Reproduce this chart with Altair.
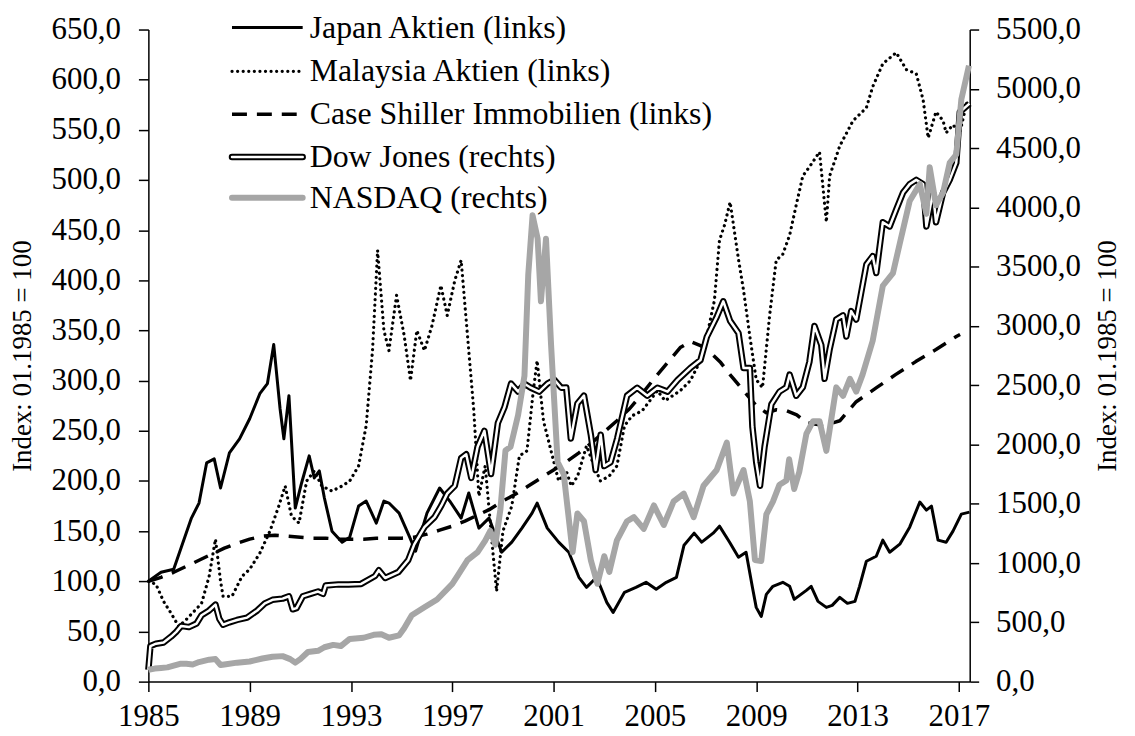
import altair as alt
import pandas as pd

# ---------------- data ----------------
japan = [(1985.0,100),(1985.5,109),(1986.0,112),(1986.3,134),(1986.7,163),(1987.0,178),(1987.3,218),
         (1987.6,222),(1987.85,193),(1988.2,228),(1988.6,242),(1989.0,262),(1989.4,287),(1989.7,297),
         (1989.95,336),(1990.2,272),(1990.35,242),(1990.55,285),(1990.8,173),(1991.05,198),(1991.35,225),
         (1991.55,203),(1991.75,210),(1991.95,183),(1992.25,150),(1992.65,139),(1992.95,144),(1993.3,175),
         (1993.6,180),(1994.0,158),(1994.3,180),(1994.5,178),(1994.9,168),(1995.3,145),(1995.55,130),
         (1996.0,168),(1996.5,193),(1996.9,180),(1997.35,163),(1997.65,188),(1998.05,153),(1998.45,163),
         (1998.95,129),(1999.35,139),(1999.75,153),(2000.15,168),(2000.35,178),(2000.75,153),(2001.2,139),
         (2001.6,129),(2002.0,104),(2002.3,94),(2002.7,104),(2003.1,79),(2003.35,69),(2003.8,89),
         (2004.25,94),(2004.65,99),(2005.05,92),(2005.45,99),(2005.85,104),(2006.15,136),(2006.55,148),
         (2006.85,139),(2007.3,148),(2007.55,155),(2007.95,139),(2008.3,124),(2008.6,129),(2008.85,94),
         (2009.0,74),(2009.2,65),(2009.4,87),(2009.66,95),(2010.05,99),(2010.32,95),(2010.5,82),
         (2010.98,91),(2011.17,95),(2011.44,80),(2011.77,74),(2012.0,76),(2012.3,84),(2012.6,78),
         (2012.9,80),(2013.08,95),(2013.35,120),(2013.74,125),(2014.0,141),(2014.27,129),(2014.67,137),
         (2015.06,154),(2015.46,179),(2015.72,171),(2015.92,175),(2016.18,141),(2016.5,139),(2016.77,150),
         (2017.1,167),(2017.42,169)]

malaysia = [(1985.0,100),(1985.3,97),(1985.6,80),(1985.9,68),(1986.2,55),(1986.5,62),(1986.8,70),
            (1987.1,78),(1987.4,105),(1987.65,142),(1987.85,100),(1987.95,85),(1988.3,85),(1988.7,105),
            (1989.0,112),(1989.4,128),(1989.8,150),(1990.15,175),(1990.4,195),(1990.65,165),(1990.95,158),
            (1991.25,200),(1991.55,210),(1991.85,195),(1992.25,190),(1992.65,195),(1992.95,200),(1993.3,215),
            (1993.6,255),(1993.85,330),(1994.05,430),(1994.3,350),(1994.5,330),(1994.8,385),(1995.1,345),
            (1995.35,300),(1995.6,350),(1995.9,330),(1996.2,355),(1996.55,395),(1996.8,365),(1997.1,400),
            (1997.35,420),(1997.6,345),(1997.85,270),(1998.05,185),(1998.3,215),(1998.6,130),(1998.75,90),
            (1999.0,150),(1999.35,175),(1999.65,225),(1999.95,230),(2000.2,290),(2000.35,320),(2000.6,260),
            (2000.9,230),(2001.2,200),(2001.5,210),(2001.7,195),(2001.95,205),(2002.3,235),(2002.6,215),
            (2002.85,200),(2003.2,205),(2003.5,215),(2003.8,255),(2004.1,265),(2004.5,270),(2004.8,280),
            (2005.1,290),(2005.4,280),(2005.7,285),(2006.0,290),(2006.4,300),(2006.8,320),(2007.1,350),
            (2007.35,380),(2007.55,440),(2007.75,455),(2007.97,478),(2008.3,421),(2008.5,390),(2008.75,344),
            (2009.0,301),(2009.25,293),(2009.53,365),(2009.79,420),(2010.05,426),(2010.32,445),(2010.58,475),
            (2010.84,504),(2011.1,513),(2011.5,528),(2011.77,458),(2011.9,504),(2012.3,534),(2012.82,559),
            (2013.35,572),(2013.6,593),(2014.0,616),(2014.53,627),(2014.93,610),(2015.32,606),(2015.59,580),
            (2015.79,542),(2016.1,568),(2016.38,559),(2016.5,547),(2016.77,555),(2017.04,547),(2017.3,576),
            (2017.42,580)]

case_shiller = [(1985.0,100),(1985.5,104),(1986.0,109),(1986.5,115),(1987.0,121),(1987.5,127),(1988.0,133),
                (1988.5,138),(1989.0,142),(1989.5,145),(1990.0,146),(1990.5,145),(1991.0,144),(1991.5,143),
                (1992.0,143),(1992.5,142),(1993.0,142),(1993.5,142),(1994.0,143),(1994.5,143),(1995.0,143),
                (1995.5,144),(1996.0,147),(1996.5,151),(1997.0,155),(1997.5,160),(1998.0,166),(1998.5,172),
                (1999.0,180),(1999.5,187),(2000.0,195),(2000.5,203),(2001.0,211),(2001.5,219),(2002.0,228),
                (2002.5,238),(2003.0,249),(2003.5,260),(2004.0,272),(2004.5,287),(2005.0,303),(2005.5,318),
                (2006.0,333),(2006.4,339),(2006.8,335),(2007.2,328),(2007.6,318),(2008.0,305),(2008.5,290),
                (2009.0,275),(2009.4,268),(2009.8,271),(2010.2,270),(2010.6,266),(2011.0,258),(2011.5,256),
                (2011.9,257),(2012.3,260),(2012.95,279),(2013.75,293),(2014.5,306),(2015.3,319),(2016.1,331),
                (2016.9,344),(2017.05,346)]

dow = [(1985.0,100),(1985.08,300),(1985.3,320),(1985.6,330),(1985.9,380),(1986.1,420),(1986.3,470),
       (1986.6,460),(1986.9,490),(1987.1,560),(1987.4,600),(1987.65,650),(1987.8,530),(1987.95,480),
       (1988.2,500),(1988.5,520),(1988.9,540),(1989.3,600),(1989.6,660),(1989.9,690),(1990.3,700),
       (1990.55,720),(1990.7,610),(1990.85,620),(1991.1,720),(1991.4,740),(1991.7,760),(1991.9,740),
       (1992.0,810),(1992.5,820),(1992.9,820),(1993.4,824),(1993.95,891),(1994.1,940),(1994.35,874),
       (1994.87,924),(1995.26,1025),(1995.5,1158),(1995.9,1304),(1996.3,1387),(1996.57,1486),(1996.8,1586),
       (1997.1,1652),(1997.35,1885),(1997.55,1918),(1997.75,1718),(1998.0,1982),(1998.27,2115),(1998.53,1751),
       (1998.8,2182),(1999.06,2314),(1999.32,2513),(1999.6,2446),(1999.85,2513),(2000.1,2479),(2000.43,2446),
       (2000.76,2513),(2001.03,2545),(2001.3,2479),(2001.5,2480),(2001.68,2050),(2001.94,2346),(2002.2,2412),
       (2002.47,2083),(2002.66,1785),(2002.86,2083),(2003.0,1818),(2003.25,1851),(2003.51,2050),(2003.9,2412),
       (2004.3,2479),(2004.7,2412),(2005.1,2479),(2005.5,2446),(2005.9,2545),(2006.4,2645),(2006.8,2712),
       (2007.05,2908),(2007.44,3075),(2007.7,3208),(2007.97,3042),(2008.3,2940),(2008.5,2645),(2008.75,2645),
       (2008.85,2150),(2009.0,1851),(2009.15,1652),(2009.33,1982),(2009.6,2339),(2009.92,2446),(2010.19,2482),
       (2010.32,2589),(2010.58,2411),(2010.84,2482),(2011.1,2696),(2011.3,3000),(2011.57,2839),(2011.7,2554),
       (2011.9,2804),(2012.16,3054),(2012.43,3089),(2012.56,2911),(2012.75,3125),(2012.95,3054),(2013.35,3518),
       (2013.6,3589),(2013.74,3446),(2014.0,3875),(2014.27,3839),(2014.53,3982),(2014.8,4125),(2015.06,4196),
       (2015.32,4232),(2015.59,4196),(2015.72,3839),(2015.98,4125),(2016.1,3875),(2016.38,4125),(2016.64,4232),
       (2016.9,4375),(2017.04,4804),(2017.42,4875)]

nasdaq = [(1985.0,100),(1985.25,110),(1985.5,115),(1985.75,120),(1986.0,135),(1986.25,150),(1986.5,150),
          (1986.75,145),(1987.0,165),(1987.4,185),(1987.65,190),(1987.85,140),(1988.0,145),(1988.5,160),
          (1989.0,170),(1989.5,195),(1989.9,210),(1990.3,215),(1990.6,190),(1990.8,160),(1991.0,190),
          (1991.3,250),(1991.7,260),(1991.95,290),(1992.3,310),(1992.6,300),(1992.95,360),(1993.5,370),
          (1993.9,395),(1994.2,400),(1994.5,370),(1994.9,390),(1995.1,450),(1995.4,560),(1995.9,627),
          (1996.4,693),(1997.0,825),(1997.2,890),(1997.6,1025),(1998.0,1092),(1998.3,1190),(1998.5,1272),
          (1998.7,1155),(1998.9,1453),(1999.1,1950),(1999.3,1980),(1999.6,2250),(1999.85,2580),(2000.0,3435),
          (2000.17,3933),(2000.37,3736),(2000.5,3208),(2000.7,3736),(2000.9,2842),(2001.16,1851),(2001.4,1751),
          (2001.75,1092),(2001.94,1419),(2002.2,1353),(2002.47,1025),(2002.73,825),(2003.0,1058),(2003.2,925),
          (2003.5,1192),(2003.9,1353),(2004.17,1387),(2004.56,1288),(2004.96,1486),(2005.35,1321),(2005.74,1520),
          (2006.14,1586),(2006.53,1387),(2006.92,1652),(2007.44,1785),(2007.84,2016),(2008.1,1586),(2008.5,1785),
          (2008.75,1520),(2008.95,1025),(2009.2,1018),(2009.4,1411),(2009.66,1518),(2009.92,1661),(2010.19,1696),
          (2010.3,1875),(2010.5,1625),(2010.7,1768),(2010.98,2089),(2011.24,2196),(2011.5,2196),(2011.77,1946),
          (2011.9,2125),(2012.16,2482),(2012.43,2411),(2012.7,2554),(2012.95,2446),(2013.2,2589),(2013.6,2875),
          (2014.0,3339),(2014.4,3446),(2014.67,3696),(2015.06,4054),(2015.46,4196),(2015.72,3946),(2015.85,4339),
          (2016.1,4018),(2016.38,4125),(2016.64,4375),(2016.9,4446),(2017.1,4911),(2017.4,5196)]

legend_labels = ["Japan Aktien (links)", "Malaysia Aktien (links)", "Case Shiller Immobilien (links)",
                 "Dow Jones (rechts)", "NASDAQ (rechts)"]
year_ticks = [1985, 1989, 1993, 1997, 2001, 2005, 2009, 2013, 2017]
left_ticks = list(range(0, 651, 50))
right_ticks = list(range(0, 5501, 500))
axis_title = "Index: 01.1985 = 100"

# ---------------- chart ----------------
FONT = "Liberation Serif"
FS = 31      # tick labels
FS_LEG = 32  # legend
FS_T = 27    # axis titles
W, H = 825, 655

def df(pairs):
    return pd.DataFrame(pairs, columns=["t", "v"])

xenc = alt.X("t:Q",
             scale=alt.Scale(domain=[1985, 2017.43], nice=False, zero=False),
             axis=alt.Axis(values=year_ticks, format="d", title=None, tickSize=10,
                           labelPadding=10, labelFlush=False, labelOverlap=False))

fmt = "replace(format(datum.value, '.1f'), '.', ',')"
left_scale = alt.Scale(domain=[0, 650], nice=False, zero=True)
right_scale = alt.Scale(domain=[0, 5500], nice=False, zero=True)

left_axis = alt.Axis(values=left_ticks, labelExpr=fmt, title=axis_title, tickSize=10,
                     labelPadding=18, titleAngle=270, titleX=-126, titleY=H / 2,
                     titleAlign="center", titleBaseline="middle", labelOverlap=False)
right_axis = alt.Axis(values=right_ticks, labelExpr=fmt, title=axis_title, orient="right",
                      tickSize=9, labelPadding=17, titleAngle=270, titleX=138, titleY=H / 2,
                      titleAlign="center", titleBaseline="middle", labelOverlap=False)


def series(pairs, scale, axis=None, **mark):
    return alt.Chart(df(pairs)).mark_line(clip=False, strokeJoin="round", **mark).encode(
        x=xenc, y=alt.Y("v:Q", scale=scale, axis=axis))


GRAY = "#a6a6a6"
l_japan = series(japan, left_scale, left_axis, color="black", strokeWidth=3)
l_malay = series(malaysia, left_scale, None, color="black", strokeWidth=3.2,
                 strokeDash=[0.1, 5.5], strokeCap="round")
l_cs = series(case_shiller, left_scale, None, color="black", strokeWidth=3.5, strokeDash=[15, 10])
l_dow_o = series(dow, right_scale, right_axis, color="black", strokeWidth=6.5)
l_dow_i = series(dow, right_scale, None, color="white", strokeWidth=2.5)
l_nas = series(nasdaq, right_scale, None, color=GRAY, strokeWidth=6)

# ---------------- legend (inside plot, upper left) ----------------
one = pd.DataFrame({"k": [0]})
LX1, LX2, TX = 84, 155, 162
rows = [-2, 42, 85, 128, 169]

def leg_line(yv, **mark):
    return alt.Chart(one).mark_rule(clip=False, **mark).encode(
        x=alt.value(LX1), x2=alt.value(LX2), y=alt.value(yv))

def leg_text(yv, label):
    return alt.Chart(one).mark_text(align="left", baseline="middle", font=FONT, fontSize=FS_LEG,
                                    color="black", clip=False).encode(
        x=alt.value(TX), y=alt.value(yv), text=alt.value(label))

legend = [
    leg_line(rows[0], color="black", strokeWidth=3),
    leg_line(rows[1], color="black", strokeWidth=3.2, strokeDash=[0.1, 5.5], strokeCap="round"),
    leg_line(rows[2], color="black", strokeWidth=3.5, strokeDash=[15, 10]),
    leg_line(rows[3], color="black", strokeWidth=6.5, strokeCap="round"),
    leg_line(rows[3], color="white", strokeWidth=2.5, strokeCap="round"),
    leg_line(rows[4], color=GRAY, strokeWidth=6, strokeCap="round"),
] + [leg_text(r, lab) for r, lab in zip(rows, legend_labels)]

chart = alt.layer(l_japan, l_malay, l_cs, l_dow_o, l_dow_i, l_nas, *legend).resolve_scale(
    y="independent"
).properties(
    width=W, height=H,
    autosize=alt.AutoSizeParams(type="none"),
    padding={"left": 141, "top": 20, "right": 158, "bottom": 56},
).configure_view(stroke=None).configure_axis(
    domainColor="black", domainWidth=1.5, tickColor="black", tickWidth=1.5,
    labelFont=FONT, labelFontSize=FS, labelColor="black",
    titleFont=FONT, titleFontSize=FS_T, titleFontWeight="normal", titleColor="black",
    grid=False,
)

chart.save("out.html", embed_options={"renderer": "svg", "actions": False})
